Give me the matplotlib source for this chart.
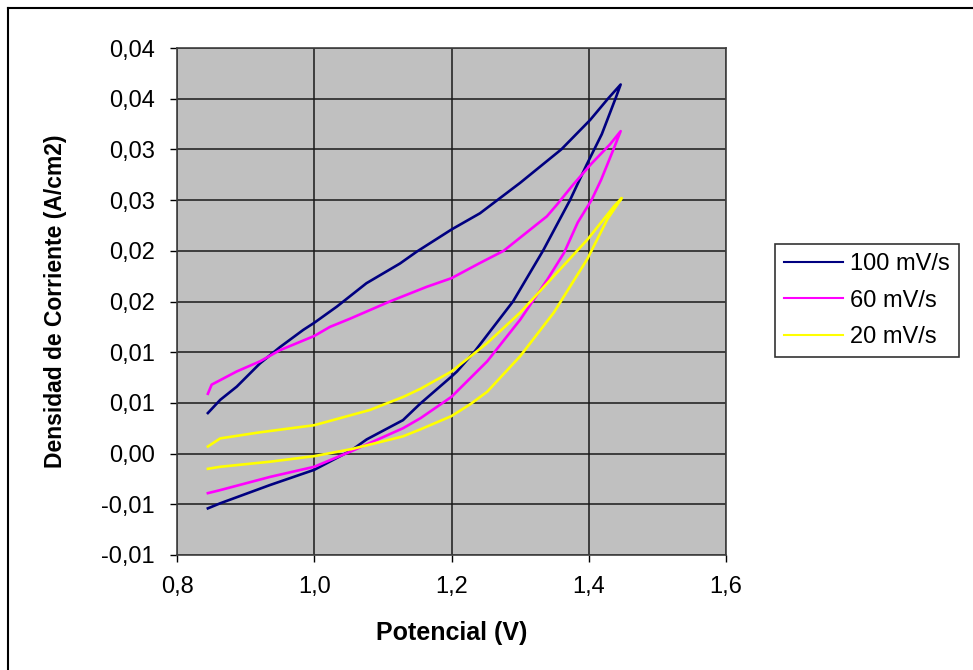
import matplotlib
matplotlib.use("Agg")
import matplotlib.pyplot as plt
from matplotlib.lines import Line2D

plt.rcParams['font.family'] = ['Liberation Sans', 'DejaVu Sans']

# 100 mV/s: forward (lower) branch then reverse (upper) branch
e_100 = [0.845, 0.863, 0.9355, 1.0, 1.0546, 1.0764, 1.1293, 1.154, 1.2, 1.208, 1.234,
         1.2896, 1.3333, 1.3727, 1.397, 1.419, 1.44, 1.4465,
         1.428, 1.402, 1.36, 1.30, 1.2415, 1.2, 1.149, 1.125, 1.076, 1.033,
         1.0, 0.984, 0.950, 0.921, 0.887, 0.863, 0.845]
j_100 = [-0.0054, -0.0049, -0.0031, -0.0016, 0.00035, 0.0014, 0.0033, 0.0049, 0.0076, 0.0081, 0.0101,
         0.0150, 0.0200, 0.0250, 0.0285, 0.0315, 0.0352, 0.0364,
         0.0350, 0.0329, 0.0300, 0.0267, 0.0237, 0.0221, 0.0199, 0.01875, 0.0168, 0.0145,
         0.0129, 0.0122, 0.0105, 0.0089, 0.0066, 0.0053, 0.0040]

# 60 mV/s
e_60 = [0.845, 0.863, 0.9355, 1.0, 1.0546, 1.1293, 1.155, 1.2, 1.252, 1.30,
        1.34, 1.364, 1.384, 1.404, 1.418, 1.436, 1.4465,
        1.431, 1.404, 1.377, 1.353, 1.339, 1.276, 1.2415, 1.2, 1.164, 1.110, 1.052,
        1.023, 1.0, 0.950, 0.921, 0.887, 0.8505, 0.845]
j_60 = [-0.0039, -0.0036, -0.0023, -0.0013, 0.00025, 0.0025, 0.0035, 0.0056, 0.0091, 0.0132,
        0.0172, 0.0198, 0.0228, 0.0250, 0.0270, 0.0300, 0.0318,
        0.0305, 0.0286, 0.0265, 0.0245, 0.0234, 0.0200, 0.0188, 0.0173, 0.01645, 0.0150, 0.0133,
        0.0125, 0.0116, 0.0102, 0.0091, 0.0081, 0.0068, 0.0059]

# 20 mV/s
e_20 = [0.845, 0.863, 0.9355, 1.0, 1.0546, 1.1293, 1.155, 1.2, 1.228, 1.252,
        1.30, 1.349, 1.398, 1.427, 1.448,
        1.437, 1.398, 1.349, 1.30, 1.252, 1.2, 1.155, 1.13, 1.081, 1.0,
        0.921, 0.863, 0.845]
j_20 = [-0.0015, -0.0013, -0.0008, -0.00025, 0.00045, 0.0017, 0.0024, 0.0037, 0.0049, 0.0061,
        0.0096, 0.0139, 0.0192, 0.0231, 0.0252,
        0.0244, 0.0211, 0.0175, 0.0139, 0.0109, 0.0081, 0.0064, 0.0056, 0.0043, 0.0028,
        0.0021, 0.0015, 0.0007]

labels = ['100 mV/s', '60 mV/s', '20 mV/s']
colors = ['#000080', '#FF00FF', '#FFFF00']

x_ticks = [0.8, 1.0, 1.2, 1.4, 1.6]
x_ticklabels = ['0,8', '1,0', '1,2', '1,4', '1,6']
y_ticks = [-0.01, -0.005, 0.0, 0.005, 0.01, 0.015, 0.02, 0.025, 0.03, 0.035, 0.04]
y_ticklabels = ['-0,01', '-0,01', '0,00', '0,01', '0,01', '0,02', '0,02',
                '0,03', '0,03', '0,04', '0,04']

W, H = 973, 670
fig = plt.figure(figsize=(W / 100, H / 100), dpi=100)
ax = fig.add_axes([177 / W, 1 - 555 / H, 549 / W, 507 / H])
ax.set_facecolor('#C0C0C0')

for e, j, lab, c in zip([e_100, e_60, e_20], [j_100, j_60, j_20], labels, colors):
    ax.plot(e, j, color=c, lw=1.9, label=lab)

ax.set_xlim(0.8, 1.6)
ax.set_ylim(-0.01, 0.04)
ax.set_xticks(x_ticks)
ax.set_xticklabels(x_ticklabels)
ax.set_yticks(y_ticks)
ax.set_yticklabels(y_ticklabels)
ax.tick_params(axis='y', direction='out', length=5, width=1, labelsize=17, pad=11)
ax.tick_params(axis='x', direction='out', length=5, width=1, labelsize=17, pad=10)
ax.grid(True, color='#1a1a1a', lw=1.1)
ax.set_axisbelow(True)
for s in ax.spines.values():
    s.set_color('#404040')
    s.set_linewidth(1.2)

ax.set_xlabel('Potencial (V)', fontsize=18, fontweight='bold')
ax.xaxis.set_label_coords(0.5, -0.13)
ax.set_ylabel('Densidad de Corriente (A/cm2)', fontsize=16.5, fontweight='bold')
ax.yaxis.set_label_coords((67 - 177) / 549, 0.5)

leg = fig.legend(loc='upper left', bbox_to_anchor=(775 / W, 1 - 244 / H),
                 fontsize=17, frameon=True, fancybox=False, edgecolor='black',
                 handlelength=2.5, handletextpad=0.3, labelspacing=0.62,
                 borderpad=0.38, borderaxespad=0)
leg.get_frame().set_linewidth(1.2)
for h in leg.get_lines():
    h.set_linewidth(1.5)

# outer chart border (left and top edges visible)
fig.add_artist(Line2D([8 / W, 8 / W], [0, 1 - 7.5 / H], transform=fig.transFigure,
                      color='black', lw=1.5))
fig.add_artist(Line2D([8 / W, 1], [1 - 7.5 / H, 1 - 7.5 / H], transform=fig.transFigure,
                      color='black', lw=1.5))

fig.savefig('out.png', dpi=100)
